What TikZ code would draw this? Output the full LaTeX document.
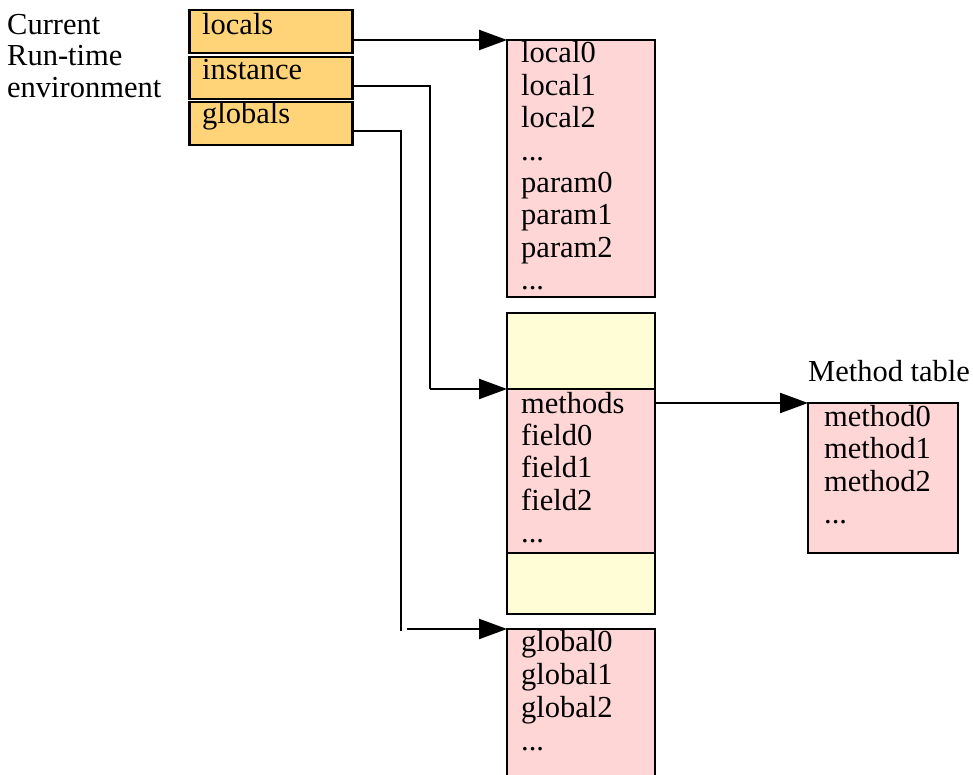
\documentclass[tikz,border=0pt]{standalone}
\usepackage{fontspec}
\setmainfont{Liberation Serif}
\usetikzlibrary{arrows.meta}
\definecolor{orng}{RGB}{255,212,121}
\definecolor{pnk}{RGB}{255,214,214}
\definecolor{ylw}{RGB}{255,253,214}
\def\tdots{...}
\begin{document}
\begin{tikzpicture}[x=1pt,y=-1pt,
  box/.style={draw,line width=2.5pt,inner sep=0pt,outer sep=0pt,anchor=center},
  txt/.style={anchor=base west,inner sep=0pt,font=\fontsize{30.5}{32.5}\selectfont},
  arr/.style={line width=2.2pt,-{Triangle[length=28pt,width=20pt]}},
  conn/.style={line width=2.2pt}]
\useasboundingbox (0,0) rectangle (973,775);
\clip (0,0) rectangle (973,775);
% left label
\node[txt] (cur) at (7,35) {Current};
\node[txt] (run) at (7,66) {Run-time};
\node[txt] (env) at (7,98) {environment};
% environment boxes
\node[box,fill=orng,minimum width=163pt,minimum height=43pt] (locals) at (271,31.5) {};
\node[box,fill=orng,minimum width=163pt,minimum height=42pt] (instance) at (271,78) {};
\node[box,fill=orng,minimum width=163pt,minimum height=43pt] (globals) at (271,123.5) {};
\node[txt] (tlocals) at (202,35) {locals};
\node[txt] (tinstance) at (202,80) {instance};
\node[txt] (tglobals) at (202,124) {globals};
% locals frame
\node[box,fill=pnk,minimum width=148pt,minimum height=257pt] (localsbox) at (581,168.5) {};
\foreach \t [count=\i from 0] in {local0,local1,local2,\tdots,param0,param1,param2,\tdots}
  \node[txt] (lt\i) at (521,63+32.4*\i) {\t};
% object
\node[box,fill=ylw,minimum width=148pt,minimum height=76pt] (yeltop) at (581,351) {};
\node[box,fill=pnk,minimum width=148pt,minimum height=164pt] (objbox) at (581,471) {};
\node[box,fill=ylw,minimum width=148pt,minimum height=61pt] (yelbot) at (581,583.5) {};
\foreach \t [count=\i from 0] in {methods,field0,field1,field2,\tdots}
  \node[txt] (ot\i) at (521,413+32.4*\i) {\t};
% globals
\node[box,fill=pnk,minimum width=148pt,minimum height=161pt] (globbox) at (581,709.5) {};
\foreach \t [count=\i from 0] in {global0,global1,global2,\tdots}
  \node[txt] (gt\i) at (521,651+33*\i) {\t};
% method table
\node[box,fill=pnk,minimum width=150pt,minimum height=150pt] (mtable) at (883,478) {};
\node[txt] (mtlabel) at (808,381) {Method table};
\foreach \t [count=\i from 0] in {method0,method1,method2,\tdots}
  \node[txt] (mt\i) at (824,426+32.6*\i) {\t};
% connectors
\coordinate (ibend) at (430,389);
\coordinate (gbend) at (401,631);
\coordinate (gstart) at (407,629);
\draw[arr] ([yshift=-8.5pt]locals.east) -- (localsbox.north west);
\draw[conn] ([yshift=-8pt]instance.east) -| (ibend);
\draw[arr] (ibend) -- (objbox.north west);
\draw[conn] ([yshift=-7.5pt]globals.east) -| (gbend);
\draw[arr] (gstart) -- (globbox.north west);
\draw[arr] (objbox.east |- mtable.north west) -- (mtable.north west);
\end{tikzpicture}
\end{document}
